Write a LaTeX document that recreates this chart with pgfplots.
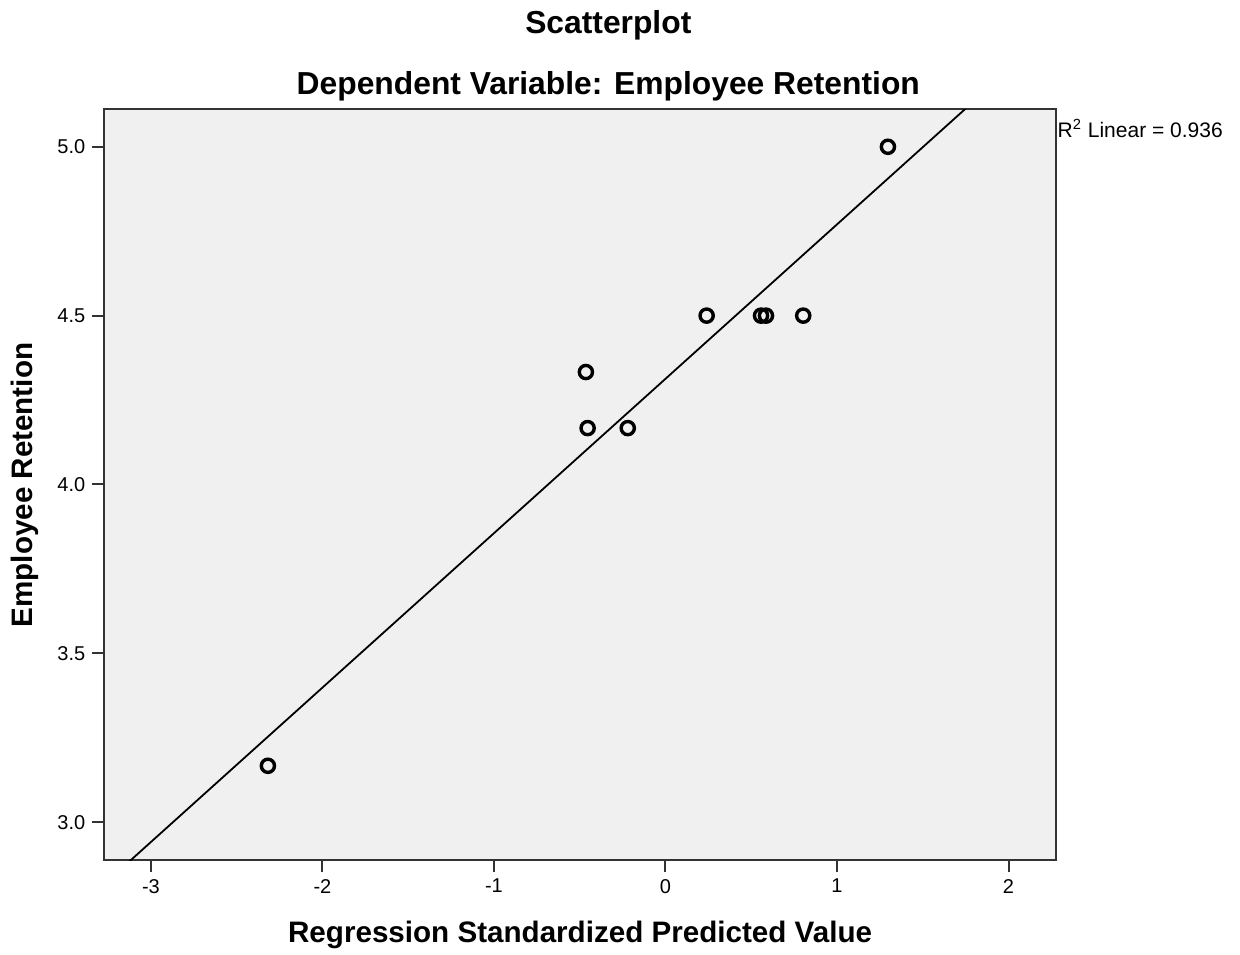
\documentclass[border=0pt]{standalone}
\usepackage{fontspec}
\setmainfont{Liberation Sans}
\usepackage{pgfplots}
\pgfplotsset{compat=1.18}
\definecolor{bgc}{HTML}{F0F0F0}
\definecolor{framec}{HTML}{333333}
\begin{document}
\begin{tikzpicture}
\useasboundingbox (-52.15pt,-47pt) rectangle (567.85pt,430pt);
\begin{axis}[
  scale only axis,
  width=475.85pt, height=375.35pt,
  at={(0pt,0pt)}, anchor=south west,
  xmin=-3.272, xmax=2.277,
  ymin=2.888, ymax=5.111,
  axis background/.style={fill=bgc},
  axis line style={framec, line width=1pt},
  xtick={-3,-2,-1,0,1,2},
  ytick={3.0,3.5,4.0,4.5,5.0},
  yticklabel style={/pgf/number format/fixed, /pgf/number format/fixed zerofill, /pgf/number format/precision=1},
  /pgf/number format/assume math mode=true,
  tick align=outside,
  xtick pos=bottom, ytick pos=left,
  major tick length=6pt,
  tick style={framec, line width=1pt},
  ticklabel style={font=\fontsize{10}{12}\selectfont},
  clip=true,
]
\addplot[black, line width=0.9pt] coordinates {(-3.272,2.817) (2.277,5.354)};
\addplot[only marks, mark=o, mark size=3.3pt, mark options={line width=1.7pt, black}] coordinates {
(1.297,5.000)
(0.240,4.500)
(0.557,4.500)
(0.586,4.500)
(0.803,4.500)
(-0.464,4.333)
(-0.454,4.167)
(-0.220,4.167)
(-2.318,3.167)
};
\end{axis}
\node[font=\fontsize{15.9}{18}\selectfont\bfseries] at (252pt,417.5pt) {Scatterplot};
\node[font=\fontsize{15.9}{18}\selectfont\bfseries] at (252pt,387pt) {Dependent Variable: Employee Retention};
\node[font=\fontsize{14.8}{17}\selectfont\bfseries] at (237.9pt,-37.5pt) {Regression Standardized Predicted Value};
\node[font=\fontsize{14.8}{17}\selectfont\bfseries, rotate=90] at (-39.65pt,187.5pt) {Employee Retention};
\node[font=\fontsize{10.5}{12}\selectfont, anchor=west, inner sep=0pt] at (476.5pt,366pt) {R\textsuperscript{2} Linear = 0.936};
\end{tikzpicture}
\end{document}
